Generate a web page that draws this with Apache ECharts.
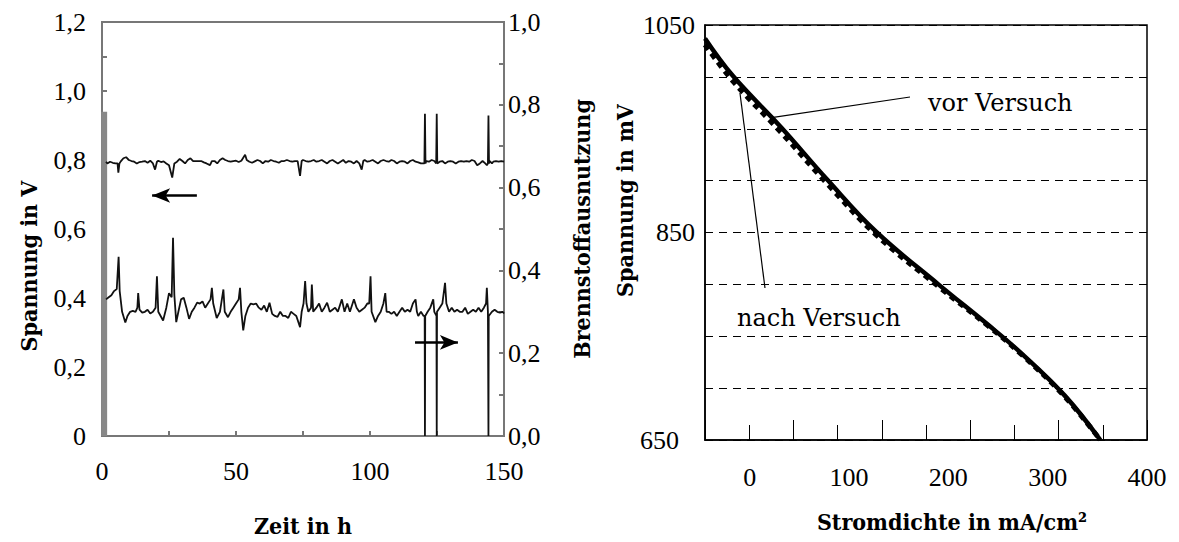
<!DOCTYPE html>
<html>
<head>
<meta charset="utf-8">
<script src="https://cdn.jsdelivr.net/npm/echarts@6/dist/echarts.min.js"></script>
<style>
html,body{margin:0;padding:0;background:#fff;}
#chart{width:1179px;height:542px;}
</style>
</head>
<body>
<div id="chart"></div>
<script>
// ---------- Left chart: long-term test ----------
const zeitTicks = [0, 50, 100, 150];
// start-up phase (grey band at t≈0), left axis
const anfahrData = [[0.8, 0], [0.8, 0.94]];
// cell voltage in V (left axis)
const spannungData = [
  [1.5,0.795],[2,0.79],[3,0.795],[4,0.792],[5,0.79],[5.8,0.79],[6.1,0.763],[6.5,0.79],[7,0.796],[8,0.805],[9,0.808],
  [10,0.8],[11,0.797],[12,0.795],[13,0.79],[14,0.794],[15,0.795],[16,0.797],[17,0.792],[18,0.798],[19,0.79],
  [19.8,0.772],[20.5,0.795],[21,0.798],[22,0.794],[23,0.796],[24,0.79],[25,0.785],[26.2,0.749],[27,0.79],[28,0.795],
  [29,0.803],[30,0.797],[31,0.79],[32,0.8],[33,0.805],[34,0.797],[35,0.797],[36,0.797],[37,0.797],[38,0.793],
  [39,0.79],[40.3,0.785],[41,0.797],[42,0.797],[43,0.79],[44,0.8],[45,0.805],[46,0.8],[47,0.797],[48,0.795],
  [49,0.797],[50,0.798],[51,0.794],[52,0.798],[53.4,0.815],[54,0.8],[55,0.795],[56,0.792],[57,0.796],[58,0.8],
  [59,0.797],[60,0.79],[61,0.797],[62,0.795],[63,0.8],[64,0.797],[65,0.795],[66,0.792],[67,0.797],[68,0.797],
  [69,0.8],[70,0.797],[71,0.795],[72,0.797],[73,0.797],[73.9,0.754],[74.5,0.797],[75,0.8],[76,0.797],[77,0.795],
  [78,0.797],[79,0.8],[80,0.795],[81,0.797],[82,0.8],[83,0.795],[84,0.79],[85,0.797],[86,0.8],[87,0.795],
  [88,0.79],[89,0.795],[90,0.8],[91,0.792],[92,0.797],[93,0.795],[94,0.79],[95,0.797],[96,0.79],[96.9,0.772],
  [97.5,0.797],[98,0.8],[99,0.795],[100,0.797],[101,0.8],[102,0.795],[103,0.79],[104,0.797],[105,0.8],[106,0.797],
  [107,0.795],[108,0.8],[109,0.797],[110,0.79],[111,0.795],[112,0.797],[113,0.795],[114,0.79],[115,0.797],[116,0.8],
  [117,0.795],[118,0.793],[119,0.79],[120.3,0.79],[120.5,0.934],[120.7,0.79],[121,0.797],[122,0.795],[123,0.8],[124,0.797],
  [124.7,0.79],[124.9,0.934],[125.1,0.79],[126,0.795],[127,0.797],[128,0.79],[129,0.795],[130,0.797],[131,0.795],[132,0.79],
  [133,0.795],[134,0.797],[135,0.795],[136,0.797],[137,0.795],[138,0.8],[139,0.797],[140,0.785],[141,0.79],[142,0.797],
  [143,0.79],[143.6,0.785],[144,0.79],[144.2,0.929],[144.4,0.79],[144.7,0.797],[145.5,0.79],[146,0.795],[147,0.797],
  [148,0.795],[149,0.797],[150,0.795]
];
// fuel utilisation (right axis)
const nutzungData = [
  [1.5,0.33],[2.5,0.335],[3.5,0.34],[4.5,0.35],[5.5,0.355],[6.2,0.433],[6.6,0.35],[7.5,0.3],[8.7,0.274],[9.5,0.29],
  [10.5,0.3],[11.5,0.302],[12.5,0.3],[13.2,0.31],[13.5,0.345],[14,0.305],[15,0.298],[16,0.3],[17,0.305],[18,0.296],
  [19,0.3],[20,0.31],[20.5,0.386],[21,0.3],[22.8,0.279],[24,0.31],[25,0.345],[26,0.335],[26.5,0.479],[27,0.34],
  [27.7,0.275],[28.5,0.3],[29.5,0.33],[30.5,0.334],[31.5,0.31],[32.5,0.283],[33.5,0.3],[34.5,0.31],[35.5,0.322],[36.5,0.32],
  [37.5,0.325],[38.5,0.31],[39.5,0.32],[40.5,0.33],[41,0.358],[41.5,0.32],[42.8,0.285],[44,0.3],[45.3,0.354],[45.8,0.3],
  [47,0.287],[48,0.3],[49,0.31],[50,0.32],[51,0.33],[51.5,0.358],[52,0.3],[52.7,0.255],[53.5,0.29],[54.5,0.31],
  [55.5,0.32],[56.5,0.318],[57.5,0.32],[58.5,0.31],[59.5,0.305],[60.5,0.315],[61.5,0.3],[62.5,0.322],[63.5,0.295],[64.5,0.29],
  [65.5,0.288],[66.5,0.3],[67.5,0.29],[68.5,0.29],[69.5,0.285],[70.5,0.3],[71.5,0.295],[72.5,0.29],[73.9,0.263],[74.5,0.3],
  [75.2,0.32],[75.8,0.374],[76.3,0.32],[77,0.3],[78,0.31],[78.3,0.366],[78.8,0.3],[80,0.31],[81,0.32],[82,0.3],
  [83,0.31],[84,0.322],[85,0.3],[86,0.305],[87,0.31],[88,0.3],[89.5,0.33],[90.5,0.3],[91.5,0.32],[92.5,0.3],
  [93.5,0.32],[94,0.33],[95,0.31],[96,0.3],[97,0.305],[98,0.31],[99,0.32],[99.7,0.32],[100.2,0.386],[100.6,0.3],
  [102,0.275],[103,0.29],[104,0.3],[105,0.32],[105.7,0.345],[106.2,0.3],[107,0.3],[108,0.295],[109,0.3],[110,0.29],
  [111,0.3],[112,0.31],[113,0.3],[114,0.305],[115,0.3],[116,0.32],[117,0.33],[117.5,0.3],[118,0.29],[119,0.3],
  [120,0.29],[120.4,0.29],[120.5,0],[120.6,0.29],[121.5,0.3],[122.5,0.31],[123.6,0.33],[124,0.3],[124.8,0.29],[124.9,0],
  [125,0.3],[126,0.31],[127,0.32],[128,0.37],[128.5,0.32],[129.5,0.3],[130.5,0.31],[131.5,0.3],[132.5,0.305],[133.5,0.3],
  [134.5,0.3],[135.5,0.31],[136.5,0.295],[137.5,0.3],[138.5,0.305],[139.5,0.3],[140.5,0.31],[141.5,0.3],[142.5,0.31],[143.3,0.32],
  [143.6,0.358],[144,0.3],[144.1,0.3],[144.2,0],[144.3,0.29],[145.5,0.3],[146.5,0.305],[147.5,0.3],[148.5,0.298],[149.5,0.3],
  [150,0.296]
];
// arrows pointing to the relevant axis
const pfeilSpannung = [[35.4, 0.697], [18.7, 0.697]];
const pfeilNutzung = [[116.8, 0.226], [132.8, 0.226]];

// ---------- Right chart: U-i characteristic ----------
const stromTicks = [0, 100, 200, 300, 400];
const spannungTicks = [650, 850, 1050];
const vorVersuch = [[-45,1037],[-17,1001],[32,951],[78,901],[127,851],[190,800],[240,761],[273,734],[317,693],[353,650]];
const nachVersuch = [[-45,1031],[-17,996],[32,946],[78,897],[127,848],[190,798],[240,760],[273,733],[317,692],[353,650]];
const vorLeader = [[20.4, 960.4], [161.4, 980.6]];
const vorText = [179.5, 974.8];
const nachLeader = [[-9.8, 984.5], [15.4, 796.5]];
const nachText = [-12.8, 767.6];

const SERIF = 'Liberation Serif';
const BOLDSERIF = 'DejaVu Serif Condensed';
const lab = {fontFamily: SERIF, fontSize: 26, color: '#000'};
const title = {fontFamily: BOLDSERIF, fontSize: 23, fontWeight: 'bold', color: '#000'};
const comma = v => v.toFixed(1).replace('.', ',');

const chart = echarts.init(document.getElementById('chart'), null, {renderer: 'svg'});
chart.setOption({
  animation: false,
  backgroundColor: '#fff',
  textStyle: {fontFamily: SERIF},
  grid: [
    {left: 102, top: 22, width: 402, height: 420, show: true, borderColor: '#777', borderWidth: 2},
    {left: 705, top: 25, width: 442, height: 415, show: true, borderColor: '#000', borderWidth: 1.5}
  ],
  xAxis: [
    {gridIndex: 0, type: 'value', min: 0, max: 150, interval: 50,
     axisLine: {onZero: false, lineStyle: {color: '#777', width: 2}},
     axisTick: {inside: true, length: 5, lineStyle: {color: '#777', width: 2}},
     minorTick: {show: true, splitNumber: 2, length: 5, lineStyle: {color: '#777', width: 2}},
     splitLine: {show: false},
     axisLabel: Object.assign({margin: 22, formatter: v => String(v)}, lab),
     name: 'Zeit in h', nameLocation: 'middle', nameGap: 78, nameTextStyle: title},
    {gridIndex: 1, type: 'value', min: -45, max: 400,
     axisLine: {onZero: false, lineStyle: {color: '#000', width: 1.5}},
     axisTick: {show: false},
     splitLine: {show: false},
     axisLabel: Object.assign({margin: 24, customValues: stromTicks, formatter: v => String(v)}, lab),
     name: 'Stromdichte in mA/cm²', nameLocation: 'middle', nameGap: 70,
     nameTextStyle: Object.assign({padding: [0, 0, 0, 52]}, title)},
    {gridIndex: 1, type: 'value', min: 0, max: 10, interval: 2, position: 'bottom',
     axisLine: {show: false, onZero: false},
     axisTick: {inside: true, length: 20, lineStyle: {color: '#000', width: 1}},
     minorTick: {show: true, splitNumber: 2, length: 15, lineStyle: {color: '#000', width: 1}},
     axisLabel: {show: false}, splitLine: {show: false}}
  ],
  yAxis: [
    {gridIndex: 0, type: 'value', min: 0, max: 1.2, interval: 0.2, position: 'left',
     axisLine: {onZero: false, lineStyle: {color: '#777', width: 2}},
     axisTick: {inside: true, length: 5, lineStyle: {color: '#777', width: 2}},
     minorTick: {show: true, splitNumber: 2, length: 5, lineStyle: {color: '#777', width: 2}},
     splitLine: {show: false},
     axisLabel: Object.assign({margin: 16, formatter: v => v === 0 ? '0' : comma(v)}, lab),
     name: 'Spannung in V', nameLocation: 'middle', nameGap: 62, nameRotate: 90,
     nameTextStyle: Object.assign({padding: [0, 74, 0, 0]}, title)},
    {gridIndex: 0, type: 'value', min: 0, max: 1.0, interval: 0.2, position: 'right',
     axisLine: {onZero: false, lineStyle: {color: '#777', width: 2}},
     axisTick: {inside: true, length: 5, lineStyle: {color: '#777', width: 2}},
     minorTick: {show: true, splitNumber: 2, length: 5, lineStyle: {color: '#777', width: 2}},
     splitLine: {show: false},
     axisLabel: Object.assign({margin: 4, formatter: v => comma(v)}, lab),
     name: 'Brennstoffausnutzung', nameLocation: 'middle', nameGap: 66, nameRotate: 90,
     nameTextStyle: title},
    {gridIndex: 1, type: 'value', min: 650, max: 1050, interval: 50,
     axisLine: {onZero: false, lineStyle: {color: '#000', width: 1.5}},
     axisTick: {show: false},
     splitLine: {show: true, lineStyle: {color: '#000', width: 1, type: [8, 6]}},
     axisLabel: Object.assign({margin: 10, customValues: spannungTicks,
       formatter: v => v === 650 ? '{s|' + v + '}' : String(v),
       rich: {s: {fontFamily: SERIF, fontSize: 26, color: '#000', padding: [0, 16, 0, 0]}}}, lab),
     name: 'Spannung in mV', nameLocation: 'middle', nameGap: 64, nameRotate: 90,
     nameTextStyle: Object.assign({padding: [0, 0, 0, 64]}, title)}
  ],
  series: [
    {name: 'Anfahrphase', type: 'line', xAxisIndex: 0, yAxisIndex: 0, data: anfahrData, symbol: 'none',
     lineStyle: {color: '#888', width: 6}, silent: true},
    {name: 'Spannung', type: 'line', xAxisIndex: 0, yAxisIndex: 0, data: spannungData, symbol: 'none',
     lineStyle: {color: '#111', width: 1.8},
     markLine: {silent: true, symbol: ['none', 'arrow'], symbolSize: [11, 18], label: {show: false},
       lineStyle: {color: '#000', width: 2.5, type: 'solid'},
       data: [[{coord: pfeilSpannung[0]}, {coord: pfeilSpannung[1]}]]}},
    {name: 'Brennstoffausnutzung', type: 'line', xAxisIndex: 0, yAxisIndex: 1, data: nutzungData, symbol: 'none',
     lineStyle: {color: '#111', width: 1.8},
     markLine: {silent: true, symbol: ['none', 'arrow'], symbolSize: [11, 18], label: {show: false},
       lineStyle: {color: '#000', width: 2.5, type: 'solid'},
       data: [[{coord: pfeilNutzung[0]}, {coord: pfeilNutzung[1]}]]}},
    {name: 'nach Versuch', type: 'line', xAxisIndex: 1, yAxisIndex: 2, data: nachVersuch, symbol: 'none',
     smooth: 0.4, lineStyle: {color: '#000', width: 5, type: [6, 5]},
     markLine: {silent: true, symbol: ['none', 'none'], label: {show: false},
       lineStyle: {color: '#000', width: 1.2, type: 'solid'},
       data: [[{coord: nachLeader[0]}, {coord: nachLeader[1]}]]},
     markPoint: {silent: true, symbol: 'circle', symbolSize: 0,
       label: {show: true, position: 'right', distance: 0, formatter: '{b}', fontFamily: 'DejaVu Serif', fontSize: 24, color: '#000'},
       data: [{name: 'nach Versuch', coord: nachText}]}},
    {name: 'vor Versuch', type: 'line', xAxisIndex: 1, yAxisIndex: 2, data: vorVersuch, symbol: 'none',
     smooth: 0.4, lineStyle: {color: '#000', width: 4.5},
     markLine: {silent: true, symbol: ['none', 'none'], label: {show: false},
       lineStyle: {color: '#000', width: 1.2, type: 'solid'},
       data: [[{coord: vorLeader[0]}, {coord: vorLeader[1]}]]},
     markPoint: {silent: true, symbol: 'circle', symbolSize: 0,
       label: {show: true, position: 'right', distance: 0, formatter: '{b}', fontFamily: 'DejaVu Serif', fontSize: 24, color: '#000'},
       data: [{name: 'vor Versuch', coord: vorText}]}}
  ]
});
</script>
</body>
</html>
